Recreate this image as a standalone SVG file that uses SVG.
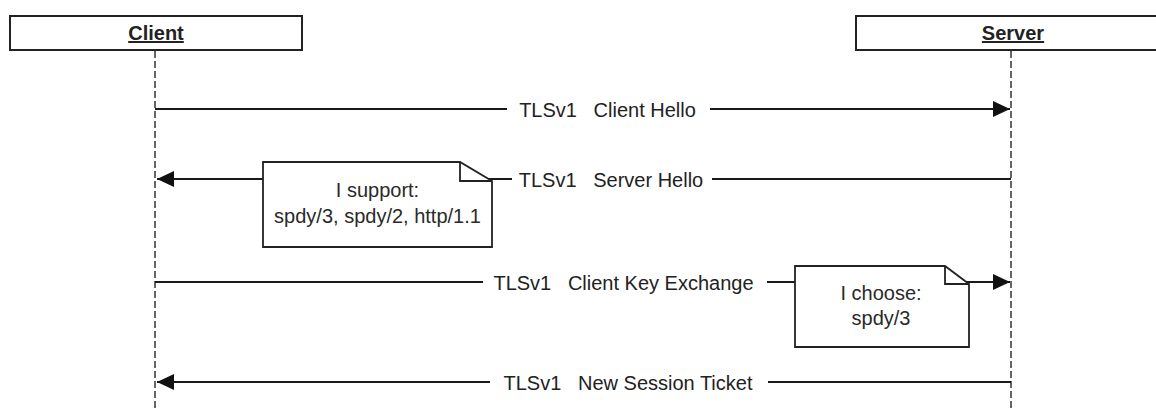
<svg xmlns="http://www.w3.org/2000/svg" width="1156" height="410" viewBox="0 0 1156 410">
  <style>
    .actor { fill: #ffffff; stroke: #222222; stroke-width: 2; }
    .actor-label { font-family: "Liberation Sans", Arial, sans-serif; font-size: 20px; font-weight: bold; fill: #222222; text-anchor: middle; text-decoration: underline; }
    .lifeline { stroke: #333333; stroke-width: 1.5; stroke-dasharray: 7 3; fill: none; }
    .msg { stroke: #1a1a1a; stroke-width: 2; fill: none; marker-end: url(#arrow); }
    .msg-label { font-family: "Liberation Sans", Arial, sans-serif; font-size: 20px; fill: #222222; text-anchor: middle; }
    .note { fill: #ffffff; stroke: #222222; stroke-width: 1.8; }
    .fold { fill: none; stroke: #222222; stroke-width: 1.8; }
    .note-text { font-family: "Liberation Sans", Arial, sans-serif; font-size: 20px; fill: #2a2a2a; text-anchor: middle; }
  </style>
  <defs>
    <marker id="arrow" markerUnits="userSpaceOnUse" markerWidth="18" markerHeight="18" refX="17" refY="9" orient="auto">
      <path d="M0,1 L17,9 L0,17 z" fill="#111111"/>
    </marker>
  </defs>

  <rect width="1156" height="410" fill="#ffffff"/>

  <!-- participants -->
  <g id="client">
    <line class="lifeline" x1="155" y1="51" x2="155" y2="410"/>
    <rect class="actor" x="10" y="16" width="292" height="34"/>
    <text class="actor-label" x="156" y="40">Client</text>
  </g>
  <g id="server">
    <line class="lifeline" x1="1011" y1="51" x2="1011" y2="410"/>
    <rect class="actor" x="856" y="16" width="310" height="34"/>
    <text class="actor-label" x="1013" y="40">Server</text>
  </g>

  <!-- messages -->
  <g id="connectors">
    <path class="msg" d="M155,109 H507 M710,109 H1010"/>
    <path class="msg" d="M1011,179 H712 M512,179 H157"/>
    <path class="msg" d="M155,282 H483 M767,282 H1010"/>
    <path class="msg" d="M1011,382 H768 M490,382 H157"/>
  </g>

  <g id="labels">
    <text class="msg-label" x="607.5" y="117" xml:space="preserve">TLSv1   Client Hello</text>
    <text class="msg-label" x="611" y="187" xml:space="preserve">TLSv1   Server Hello</text>
    <text class="msg-label" x="623.5" y="290" xml:space="preserve">TLSv1   Client Key Exchange</text>
    <text class="msg-label" x="628" y="390" xml:space="preserve">TLSv1   New Session Ticket</text>
  </g>

  <!-- notes -->
  <g id="note-support">
    <polygon class="note" points="263,162 460,162 492,181 492,247 263,247"/>
    <polyline class="fold" points="460,162 460,181 492,181"/>
    <text class="note-text" x="377.5" y="197">I support:</text>
    <text class="note-text" x="377.5" y="223">spdy/3, spdy/2, http/1.1</text>
  </g>
  <g id="note-choose">
    <polygon class="note" points="795,266 945,266 969,284 969,347 795,347"/>
    <polyline class="fold" points="945,266 945,284 969,284"/>
    <text class="note-text" x="881" y="300">I choose:</text>
    <text class="note-text" x="881" y="325">spdy/3</text>
  </g>
</svg>
